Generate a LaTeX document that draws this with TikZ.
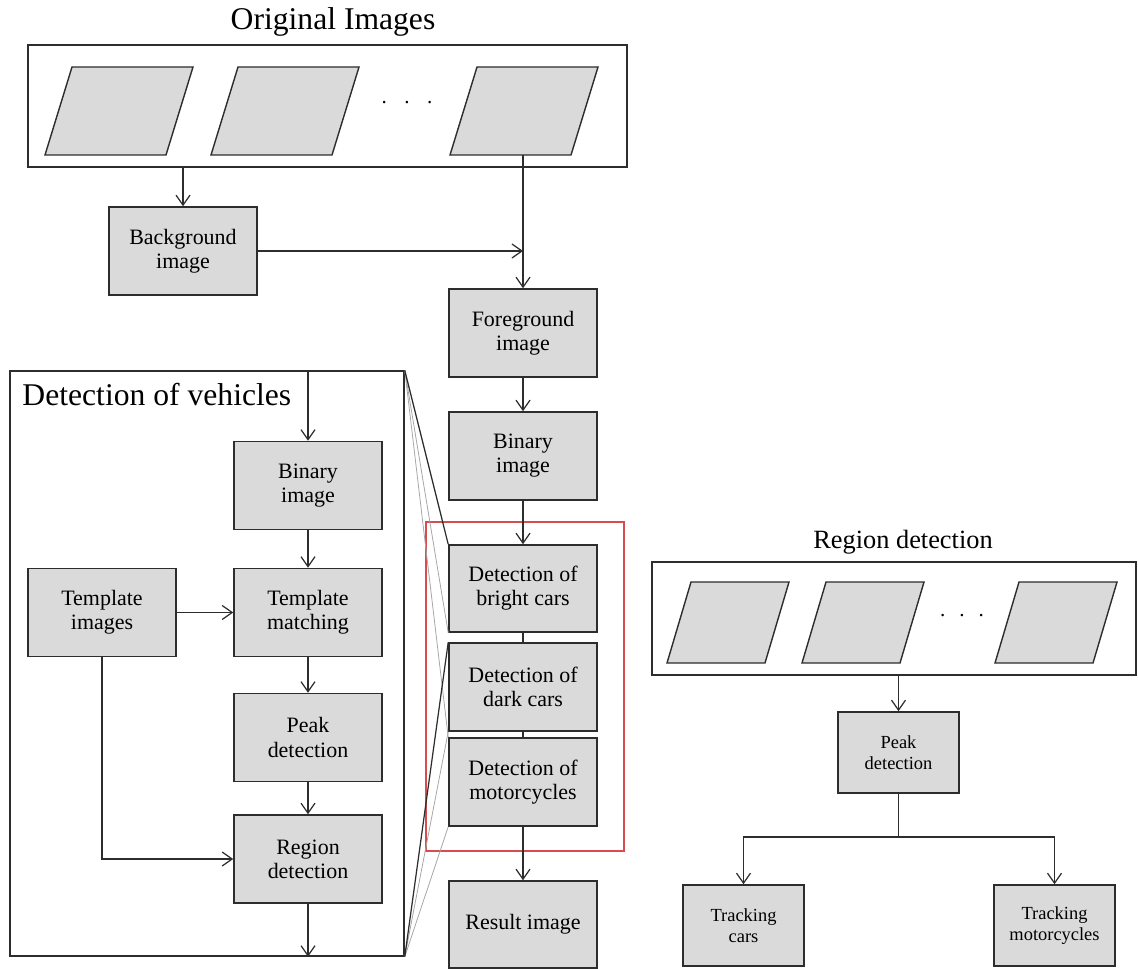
\documentclass[tikz,border=0pt]{standalone}
\usepackage{fontspec}
\setmainfont{Liberation Serif}
\usetikzlibrary{arrows.meta}
\definecolor{boxfill}{RGB}{218,218,218}
\definecolor{edge}{RGB}{45,45,45}
\definecolor{zoomred}{RGB}{214,76,80}

\begin{document}
\begin{tikzpicture}[x=0.02cm,y=-0.02cm,color=edge,text=black,line width=0.7pt,
  >={Straight Barb[length=2mm,width=2.8mm]},
  proc/.style={draw,fill=boxfill,line width=0.9pt,align=center,inner sep=1pt,
    minimum width=2.96cm,minimum height=1.76cm,font=\fontsize{12.5}{13.7}\selectfont},
  smallproc/.style={proc,minimum width=2.42cm,minimum height=1.62cm,
    font=\fontsize{10.5}{12}\selectfont},
  frame/.style={draw,line width=0.9pt,inner sep=0pt},
  photo/.style={draw,fill=boxfill,line width=0.8pt},
  fan/.style={gray!70,line width=0.45pt}]
\useasboundingbox (0,0) rectangle (1138,969);

% original images
\node[font=\fontsize{18}{20}\selectfont] (origtitle) at (333,22) {Original Images};
\node[frame,minimum width=11.98cm,minimum height=2.44cm] (origbox) at (327.5,106) {};
\foreach \bx in {45,211,450}
  \draw[photo] (\bx,155) -- ++(121,0) -- ++(27,-88) -- ++(-121,0) -- cycle;
\node[font=\large] (odots) at (407,103) {.\hspace{10pt}.\hspace{10pt}.};
\coordinate (lastimg) at (509,155);

\node[proc] (bg) at (183,251) {Background\\image};
\node[proc] (fg) at (523,333) {Foreground\\image};
\node[proc] (bin) at (523,456) {Binary\\image};
\node[proc,minimum height=1.74cm] (bright) at (523,588.5) {Detection of\\bright cars};
\node[proc] (dark) at (523,687) {Detection of\\dark cars};
\node[proc] (moto) at (523,782) {Detection of\\motorcycles};
\node[proc,minimum height=1.74cm] (result) at (523,924.5) {Result image};
\node[draw=zoomred,line width=0.8pt,minimum width=3.96cm,minimum height=6.58cm] (zoom) at (525,686.5) {};

\draw[->] (origbox.south -| bg.north) -- (bg.north);
\draw[->] (fg.north |- lastimg) -- (fg.north);
\draw[->] (bg.east) -- (bg.east -| fg.north);
\draw[->] (fg) -- (bin);
\draw[->] (bin) -- (bright);
\draw (bright) -- (dark);
\draw (dark) -- (moto);
\draw[->] (moto) -- (result);

% detection of vehicles
\node[frame,minimum width=7.88cm,minimum height=11.7cm] (vehbox) at (207,663.5) {};
\node[font=\fontsize{18}{20}\selectfont,anchor=west] (vehtitle) at (16,395) {Detection of vehicles};
\node[proc] (vbin) at (308,485.5) {Binary\\image};
\node[proc] (tmatch) at (308,612.5) {Template\\matching};
\node[proc] (timg) at (102,612.5) {Template\\images};
\node[proc] (peak) at (308,737.5) {Peak\\detection};
\node[proc] (region) at (308,859) {Region\\detection};

\draw[->] (vehbox.north -| vbin.north) -- (vbin.north);
\draw[->] (vbin) -- (tmatch);
\draw[->] (timg) -- (tmatch);
\draw[->] (tmatch) -- (peak);
\draw[->] (peak) -- (region);
\draw[->] (timg.south) |- (region.west);
\draw[->] (region.south) -- (region.south |- vehbox.south);

% zoom lines
\draw[fan] (vehbox.north east) -- (bright.south west);
\draw[fan] (vehbox.north east) -- (moto.north west);
\draw[fan] (vehbox.south east) -- (dark.south west);
\draw[fan] (vehbox.south east) -- (moto.south west);
\draw (vehbox.north east) -- (bright.north west);
\draw (vehbox.south east) -- (dark.north west);

% region detection
\node[font=\fontsize{15}{17}\selectfont] (regtitle) at (903,542) {Region detection};
\node[frame,minimum width=9.68cm,minimum height=2.26cm] (regbox) at (894,618.5) {};
\foreach \bx in {667,802,995}
  \draw[photo] (\bx,663) -- ++(98,0) -- ++(24,-81) -- ++(-98,0) -- cycle;
\node[font=\large] (rdots) at (962,616) {.\hspace{8pt}.\hspace{8pt}.};

\node[smallproc] (rpeak) at (898.5,752.5) {Peak\\detection};
\node[smallproc] (tcars) at (743.5,925.5) {Tracking\\cars};
\node[smallproc] (tmoto) at (1054.5,925.5) {Tracking\\motorcycles};
\coordinate (split) at (898.5,837);

\draw[->] (regbox.south -| rpeak.north) -- (rpeak.north);
\draw (rpeak.south) -- (split);
\draw[->] (split) -| (tcars.north);
\draw[->] (split) -| (tmoto.north);
\end{tikzpicture}
\end{document}
